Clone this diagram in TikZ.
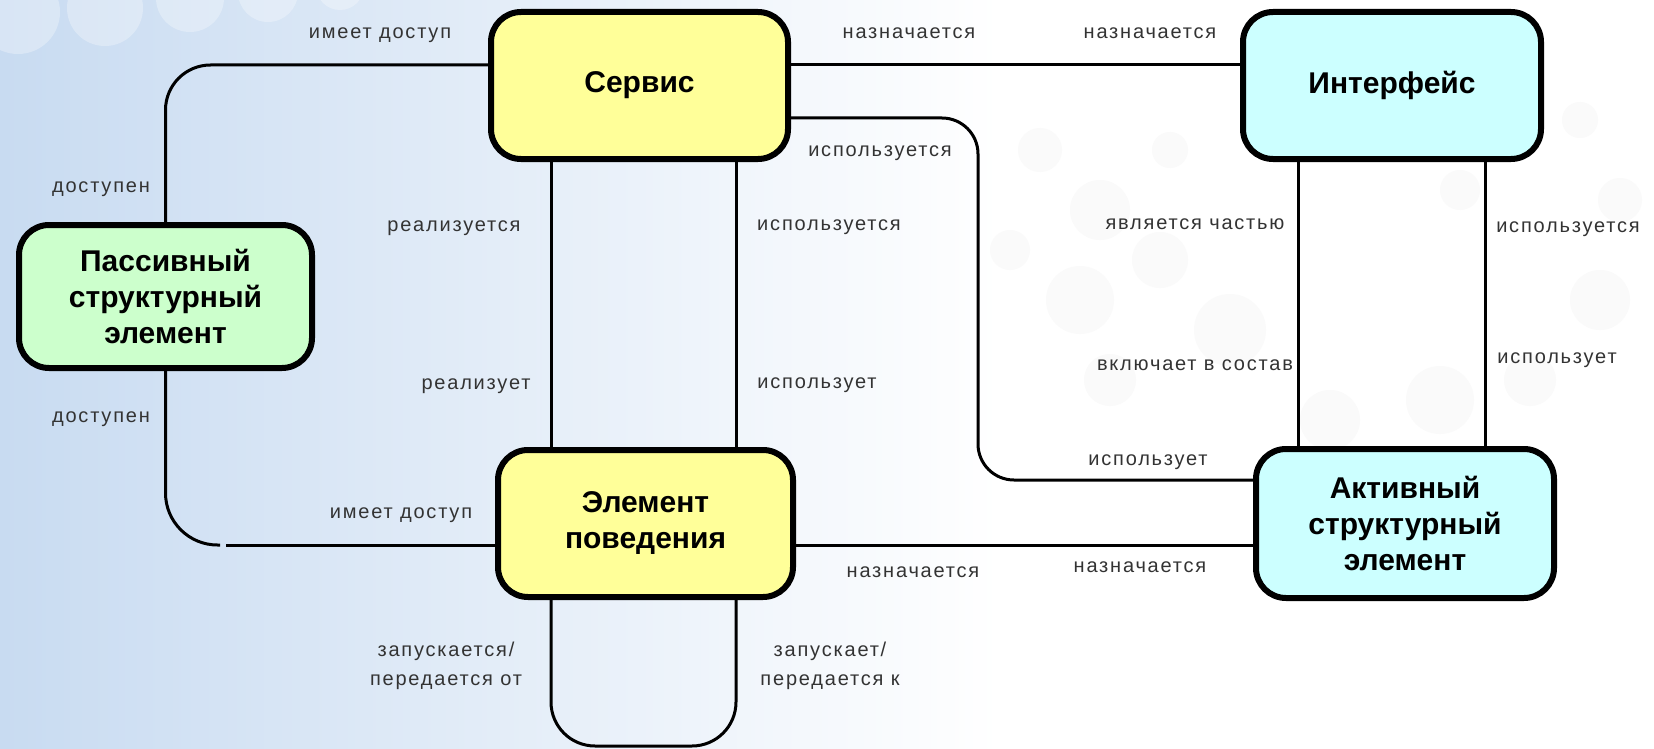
\documentclass[tikz,border=0pt]{standalone}
\usepackage{fontspec}
\setmainfont{Liberation Sans}
\newfontfamily\lblfont[LetterSpace=9]{Liberation Sans}
\usepackage{tikz}
\definecolor{servyellow}{RGB}{255,255,153}
\definecolor{passgreen}{RGB}{204,255,204}
\definecolor{actcyan}{RGB}{204,255,255}
\definecolor{bgblue}{RGB}{200,219,241}

\begin{document}
\begin{tikzpicture}[x=1pt, y=-1pt,
    main/.style = {draw, line width=6pt, rounded corners=30pt, align=center, inner sep=0pt,
                   font=\bfseries\fontsize{30}{36}\selectfont},
    lbl/.style = {font=\lblfont\fontsize{20}{29}\selectfont, text=black!80, inner sep=0pt,
                  text height=10pt, text depth=0pt},
    lbltwo/.style = {lbl, align=center, text height=, text depth=},
    conn/.style = {line width=3pt}]
    % background
    \useasboundingbox (0,0) rectangle (1654,749);
    \shade[left color=bgblue, right color=white] (0,0) rectangle (1000,749);
    \fill[white] (1000,0) rectangle (1654,749);
    \foreach \cx/\cy/\r in {18/12/42, 105/8/38, 190/-2/34, 268/-8/30, 340/-14/24}
        \fill[white, opacity=0.3] (\cx,\cy) circle (\r);
    \foreach \cx/\cy/\r in {1040/150/22, 1100/210/30, 1080/300/34, 1160/260/28, 1230/330/36,
                            1330/420/30, 1440/400/34, 1530/380/26, 1600/300/30, 1620/200/22,
                            1580/120/18, 1460/190/20, 1170/150/18, 1010/250/20, 1110/380/26}
        \fill[black!2] (\cx,\cy) circle (\r);

    % elements
    \node[main, fill=servyellow, minimum width=297pt, minimum height=147pt] (serv) at (639.5,85.5) {Сервис};
    \node[main, fill=actcyan, minimum width=298pt, minimum height=147pt] (iface) at (1392,85.5) {Интерфейс};
    \node[main, fill=passgreen, minimum width=293pt, minimum height=143pt] (passive) at (165.5,296.5) {Пассивный\\структурный\\элемент};
    \node[main, fill=servyellow, minimum width=295pt, minimum height=147pt] (behav) at (645.5,523.5) {Элемент\\поведения};
    \node[main, fill=actcyan, minimum width=298pt, minimum height=149pt] (active) at (1405,523.5) {Активный\\структурный\\элемент};

    % relations
    \draw[conn, rounded corners=45pt] (serv.west |- 0,65) -| (passive.north);
    \draw[conn, rounded corners=52pt] (passive.south) |- (220,545);
    \draw[conn] (226,545) -- (behav.west |- 0,545);
    \draw[conn] (serv.east |- 0,65) -- (iface.west |- 0,65);
    \draw[conn, rounded corners=36pt] (serv.east |- 0,118) -- (978,118) -- (978,480) -- (active.west |- 0,480);
    \draw[conn] (serv.south -| 551,0) -- (behav.north -| 551,0);
    \draw[conn] (serv.south -| 736,0) -- (behav.north -| 736,0);
    \draw[conn] (iface.south -| 1298,0) -- (active.north -| 1298,0);
    \draw[conn] (iface.south -| 1485,0) -- (active.north -| 1485,0);
    \draw[conn] (behav.east |- 0,545) -- (active.west |- 0,545);
    \draw[conn, rounded corners=44pt] (behav.south -| 551,0) -- (551,746) -- (736,746) -- (behav.south -| 736,0);

    % labels
    \node[lbl] (acc1) at (380,34) {имеет доступ};
    \node[lbl] (avl1) at (101,187) {доступен};
    \node[lbl] (avl2) at (101,417) {доступен};
    \node[lbl] (acc2) at (401,513) {имеет доступ};
    \node[lbl] (rlz1) at (454,226) {реализуется};
    \node[lbl] (rlz2) at (476,384) {реализует};
    \node[lbl] (use1) at (829,225) {используется};
    \node[lbl] (use2) at (817,383) {использует};
    \node[lbl] (asg1) at (909,34) {назначается};
    \node[lbl] (asg2) at (1150,34) {назначается};
    \node[lbl] (use3) at (880,152) {используется};
    \node[lbl] (use4) at (1148,460) {использует};
    \node[lbl] (part1) at (1195,224) {является частью};
    \node[lbl] (part2) at (1195,365) {включает в состав};
    \node[lbl] (use5) at (1568,227) {используется};
    \node[lbl] (use6) at (1557,358) {использует};
    \node[lbl] (asg3) at (913,572) {назначается};
    \node[lbl] (asg4) at (1140,567) {назначается};
    \node[lbltwo] (trg1) at (446,666) {запускается/\\передается от};
    \node[lbltwo] (trg2) at (830,666) {запускает/\\передается к};
\end{tikzpicture}
\end{document}
